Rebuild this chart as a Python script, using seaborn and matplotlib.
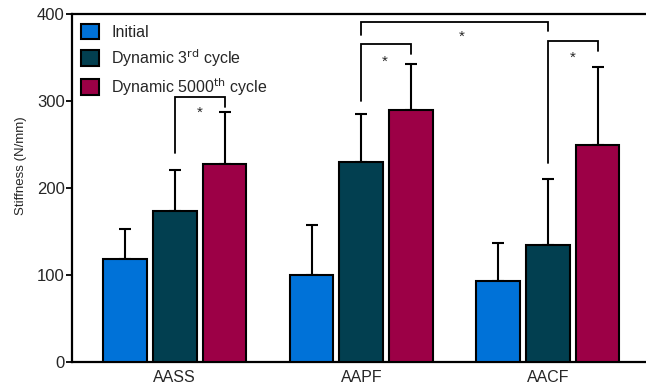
import numpy as np
import pandas as pd
import matplotlib
matplotlib.use("Agg")
import matplotlib.pyplot as plt
import seaborn as sns
from matplotlib.patches import Patch

# ---- data ----
sites = ["AASS", "AAPF", "AACF"]
conditions = ["Initial", "Dynamic 3rd cycle", "Dynamic 5000th cycle"]
legend_labels = ["Initial", "Dynamic 3$^{\\rm rd}$ cycle", "Dynamic 5000$^{\\rm th}$ cycle"]
initial_mean = [118, 100, 93]
initial_sd = [35, 58, 44]
dyn3_mean = [174, 230, 134]
dyn3_sd = [47, 55, 76]
dyn5000_mean = [228, 290, 249]
dyn5000_sd = [59, 52, 90]
colors = ["#0072D8", "#023F50", "#9C0046"]
yticks = [0, 100, 200, 300, 400]

# significance brackets: (site_a, cond_a, site_b, cond_b, y_left, y_top, y_right, y_star, star_dx)
brackets = [
    (0, 1, 0, 2, 240, 305, 293, 287, 0.0),
    (1, 1, 1, 2, 300, 366, 354, 345, -0.01),
    (1, 1, 2, 1, 376, 391, 380, 374, 0.04),
    (2, 1, 2, 2, 229, 369, 357, 350, 0.0),
]

means = [initial_mean, dyn3_mean, dyn5000_mean]
sds = [initial_sd, dyn3_sd, dyn5000_sd]

rows = []
for c, cond in enumerate(conditions):
    for s, site in enumerate(sites):
        rows.append({"site": site, "cond": cond, "stiffness": means[c][s], "sd": sds[c][s]})
df = pd.DataFrame(rows)

sns.set_style("white")
plt.rcParams["font.family"] = ["Liberation Sans", "DejaVu Sans"]
plt.rcParams["mathtext.default"] = "regular"

fig = plt.figure(figsize=(6.46, 3.86), dpi=100)
ax = fig.add_axes([71.7 / 646, 24 / 386, 579.3 / 646, 348 / 386])

sns.barplot(data=df, x="site", y="stiffness", hue="cond", order=sites,
            hue_order=conditions, palette=colors, errorbar=None,
            width=0.8, gap=0.12, edgecolor="black", linewidth=1.5,
            saturation=1, ax=ax, legend=False, zorder=3)

bar_conts = list(ax.containers)

# error bars (upper only)
for c, cont in enumerate(bar_conts):
    xs = [p.get_x() + p.get_width() / 2 for p in cont]
    ax.errorbar(xs, means[c], yerr=[np.zeros(len(sites)), sds[c]], fmt="none",
                ecolor="black", elinewidth=1.5, capsize=4.3, capthick=1.5, zorder=2)

def center(s, c):
    p = bar_conts[c][s]
    return p.get_x() + p.get_width() / 2

for sa, ca, sb, cb, yl, yt, yr, ys, dx in brackets:
    xa, xb = center(sa, ca), center(sb, cb)
    ax.plot([xa, xa, xb, xb], [yl, yt, yt, yr], color="black", lw=1.3,
            solid_joinstyle="miter", zorder=4, clip_on=False)
    ax.text((xa + xb) / 2 + dx, ys, "*", ha="center", va="center", fontsize=11, zorder=5)

ax.set_xlim(-0.553, 2.553)
ax.set_ylim(0, 400)
ax.set_yticks(yticks)
ax.set_xlabel("")
ax.set_ylabel("Stiffness (N/mm)", fontsize=9.5)
ax.yaxis.set_label_coords(-0.078, 0.565)
ax.tick_params(axis="y", which="both", left=True, length=4, width=1.3,
               labelsize=12, pad=1, color="black")
ax.tick_params(axis="x", length=0, labelsize=11.5, pad=5.5)
for side in ["left", "top", "bottom"]:
    ax.spines[side].set_visible(True)
    ax.spines[side].set_color("black")
    ax.spines[side].set_linewidth(1.6)
ax.spines["right"].set_visible(False)

handles = [Patch(facecolor=col, edgecolor="black", linewidth=1.5) for col in colors]
ax.legend(handles, legend_labels, loc="upper left", frameon=False, fontsize=11.5,
          handlelength=1.13, handleheight=1.13, handletextpad=0.75,
          labelspacing=0.45, borderaxespad=0.3, borderpad=0.3)

fig.savefig("out.png", dpi=100)
